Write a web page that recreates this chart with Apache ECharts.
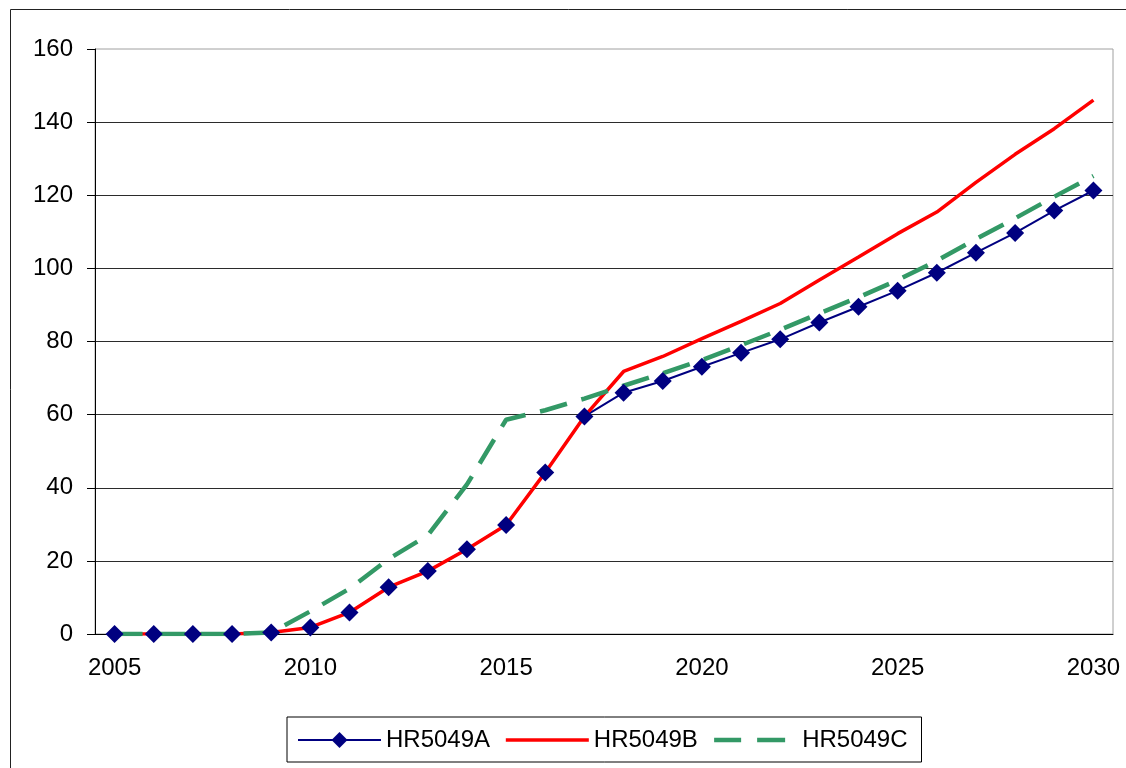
<!DOCTYPE html>
<html>
<head>
<meta charset="utf-8">
<script src="https://cdn.jsdelivr.net/npm/echarts@6/dist/echarts.min.js"></script>
<style>
    html, body { margin: 0; padding: 0; background: #fff; }
    #chart { width: 1126px; height: 768px; }
</style>
</head>
<body>
<div id="chart"></div>
<script>
// years on the category axis
const anos = ['2005', '2006', '2007', '2008', '2009', '2010', '2011', '2012', '2013',
    '2014', '2015', '2016', '2017', '2018', '2019', '2020', '2021', '2022', '2023',
    '2024', '2025', '2026', '2027', '2028', '2029', '2030']

const nomes = ['HR5049A', 'HR5049B', 'HR5049C']

const serieA = [0, 0, 0, 0, 0.4, 1.8, 5.9, 12.8, 17.2, 23.2, 29.8, 44.2, 59.5,
    66, 69.2, 73.1, 76.9, 80.6, 85.2, 89.5, 93.9, 98.8, 104.3, 109.7, 115.8, 121.3]

const serieB = [0, 0, 0, 0, 0.4, 1.8, 5.9, 12.8, 17.2, 23.2, 29.8, 44.2, 59.5,
    71.8, 75.9, 80.8, 85.5, 90.4, 96.8, 103.1, 109.5, 115.4, 123.5, 131.2, 138.2, 146]

const serieC = [0, 0, 0, 0, 0.4, 6.2, 12.4, 20.5, 27, 40.9, 58.6, 61.2, 64.4,
    67.9, 71.3, 74.9, 79, 83.2, 87.7, 92.1, 96.8, 102.1, 108, 113.7, 119.6, 125.3]

const yMin = 0
const yMax = 160
const yStep = 20

const fonte = '"Liberation Sans", Arial, sans-serif'

const div = document.getElementById('chart')
const myChart = echarts.init(div)

myChart.setOption({
    animation: false,
    backgroundColor: '#fff',
    textStyle: { fontFamily: fonte },
    // outer chart border (runs off the right and bottom edge)
    graphic: [
        {
            type: 'rect',
            left: 8,
            top: 7,
            shape: { width: 1300, height: 900 },
            style: { fill: 'none', stroke: '#222', lineWidth: 1 },
            silent: true
        }
    ],
    grid: {
        left: 95,
        top: 49,
        right: 13,
        bottom: 134,
        show: true,
        borderColor: '#a0a0a0',
        borderWidth: 1,
        backgroundColor: '#fff'
    },
    legend: {
        data: [
            { name: nomes[0], lineStyle: { width: 2 } },
            // no marker for the plain lines, only the stroke
            { name: nomes[1], itemStyle: { opacity: 0 }, lineStyle: { width: 3.5 } },
            { name: nomes[2], itemStyle: { opacity: 0 }, lineStyle: { width: 4.5, type: [27, 16, 28, 12] } }
        ],
        left: 287,
        top: 717,
        orient: 'horizontal',
        borderColor: '#000',
        borderWidth: 1,
        padding: [11, 14, 10, 10],
        itemWidth: 83,
        itemHeight: 20,
        itemGap: 14,
        textStyle: { fontSize: 24, color: '#000', fontFamily: fonte }
    },
    xAxis: {
        type: 'category',
        data: anos,
        boundaryGap: true,
        axisLine: { lineStyle: { color: '#000', width: 1 } },
        axisTick: {
            length: 8,
            alignWithLabel: false,
            interval: (index) => index % 5 === 0,
            lineStyle: { color: '#000' }
        },
        axisLabel: {
            interval: (index) => index % 5 === 0,
            margin: 22,
            fontSize: 24,
            color: '#000',
            fontFamily: fonte
        },
        splitLine: { show: false }
    },
    yAxis: {
        type: 'value',
        min: yMin,
        max: yMax,
        interval: yStep,
        axisLine: { show: true, lineStyle: { color: '#000', width: 1 } },
        axisTick: { show: true, length: 8, lineStyle: { color: '#000' } },
        axisLabel: {
            margin: 22,
            fontSize: 24,
            color: '#000',
            fontFamily: fonte
        },
        splitLine: {
            show: true,
            showMaxLine: false,
            lineStyle: { color: '#2b2b2b', width: 1 }
        }
    },
    series: [
        {
            name: nomes[0],
            type: 'line',
            data: serieA,
            symbol: 'diamond',
            symbolSize: 17,
            showSymbol: false,
            color: '#000080',
            lineStyle: { color: '#000080', width: 2 },
            itemStyle: { color: '#000080' }
        },
        {
            name: nomes[1],
            type: 'line',
            data: serieB,
            symbol: 'none',
            color: '#ff0000',
            lineStyle: { color: '#ff0000', width: 3.5 }
        },
        {
            name: nomes[2],
            type: 'line',
            data: serieC,
            symbol: 'none',
            color: '#339966',
            lineStyle: { color: '#339966', width: 4.5, type: [28, 15] }
        },
        {
            // diamonds of HR5049A drawn on top of the other lines
            type: 'scatter',
            data: serieA,
            symbol: 'diamond',
            symbolSize: 18,
            itemStyle: { color: '#000080', opacity: 1 },
            z: 3
        }
    ]
});
</script>
</body>
</html>
